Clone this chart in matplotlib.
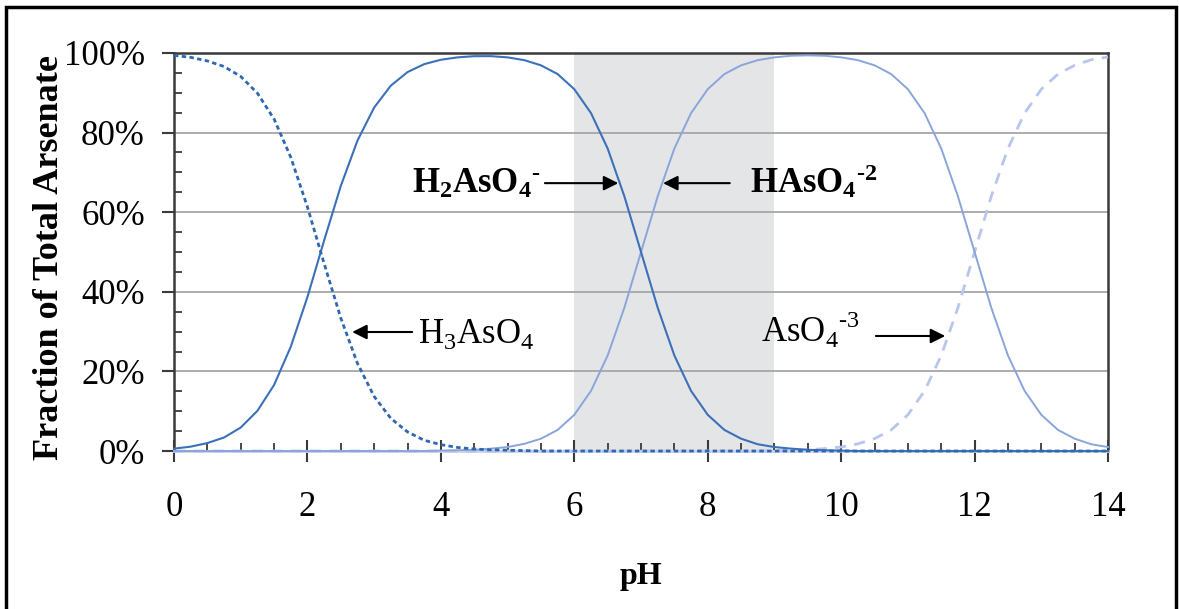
import matplotlib
matplotlib.use("Agg")
import matplotlib.pyplot as plt
from matplotlib.patches import Rectangle
from matplotlib.ticker import MultipleLocator, FuncFormatter

plt.rcParams["font.family"] = ["Liberation Serif", "DejaVu Serif"]
plt.rcParams["mathtext.fontset"] = "custom"
plt.rcParams["mathtext.rm"] = "Liberation Serif"
plt.rcParams["mathtext.bf"] = "Liberation Serif:bold"

# pH grid (every 0.25)
ph = [i * 0.25 for i in range(57)]

# fraction of total arsenate (%) for each species
h3aso4 = [99.4, 98.9, 98.0, 96.6, 94.1, 89.9, 83.4, 73.8, 61.3, 47.1, 33.4, 22.0,
          13.7, 8.2, 4.8, 2.7, 1.6, 0.9, 0.5, 0.3, 0.2, 0.1] + [0.0] * 35
h2aso4 = [0.6, 1.1, 2.0, 3.4, 5.9, 10.1, 16.6, 26.2, 38.7, 52.9, 66.6, 78.0,
          86.3, 91.8, 95.2, 97.2, 98.3, 98.9, 99.2, 99.2, 98.9, 98.2, 96.9, 94.7,
          90.9, 84.9, 76.0, 64.0, 50.0, 36.0, 24.0, 15.1, 9.1, 5.3, 3.1, 1.7,
          1.0, 0.6, 0.3, 0.2, 0.1] + [0.0] * 16
haso4 = [0.0] * 16 + [0.1, 0.2, 0.3, 0.6, 1.0, 1.8, 3.1, 5.3, 9.1, 15.1, 24.0, 36.0,
                      50.0, 64.0, 76.0, 84.9, 90.9, 94.7, 96.9, 98.2, 98.9, 99.3,
                      99.4, 99.3, 98.9, 98.2, 96.9, 94.7, 90.9, 84.9, 76.0, 64.0,
                      50.0, 36.0, 24.0, 15.1, 9.1, 5.3, 3.1, 1.7, 1.0]
aso4 = [0.0] * 36 + [0.1, 0.2, 0.3, 0.6, 1.0, 1.8, 3.1, 5.3, 9.1, 15.1, 24.0, 36.0,
                     50.0, 64.0, 76.0, 84.9, 90.9, 94.7, 96.9, 98.3, 99.0]

shade_range = (6, 9)

fig = plt.figure(figsize=(11.79, 6.09), dpi=100)
ax = fig.add_axes([0.1476, 0.2594, 0.7922, 0.6536])

ax.axvspan(*shade_range, color="#e4e5e7", zorder=0, lw=0)
ax.yaxis.grid(True, color="#a6a6a6", lw=1.3, zorder=1)
ax.set_axisbelow(True)

ax.plot(ph, aso4, color="#b7c6ea", lw=2.0, ls=(0, (4, 3)), clip_on=False, zorder=3)
ax.plot(ph, haso4, color="#8aa5d9", lw=1.4, clip_on=False, zorder=3)
ax.plot(ph, h2aso4, color="#3c71b8", lw=1.5, clip_on=False, zorder=4)
ax.plot(ph, h3aso4, color="#2f68b0", lw=2.0, ls=(0, (1.6, 1.2)), clip_on=False, zorder=4)

ax.set_xlim(0, 14)
ax.set_ylim(0, 100)
ax.xaxis.set_major_locator(MultipleLocator(2))
ax.xaxis.set_minor_locator(MultipleLocator(0.5))
ax.yaxis.set_major_locator(MultipleLocator(20))
ax.yaxis.set_minor_locator(MultipleLocator(5))
ax.yaxis.set_major_formatter(FuncFormatter(lambda v, p: f"{v:.0f}%"))

for s in ["left", "top", "right"]:
    ax.spines[s].set_color("#3a3a3a")
    ax.spines[s].set_linewidth(1.8)
ax.spines["bottom"].set_color("#c9d3ee")
ax.spines["bottom"].set_linewidth(2)

ax.tick_params(axis="y", which="major", direction="out", length=9, width=1.5,
               color="#3a3a3a", labelsize=25, pad=12)
ax.tick_params(axis="y", which="minor", direction="in", length=6, width=1.3, color="#3a3a3a")
ax.tick_params(axis="x", which="major", direction="inout", length=16, width=1.5,
               color="#3a3a3a", labelsize=25, pad=21)
ax.tick_params(axis="x", which="minor", direction="in", length=6, width=1.3, color="#3a3a3a")

ax.set_ylabel("Fraction of Total Arsenate", fontsize=26, fontweight="bold")
ax.yaxis.set_label_coords(-0.116, 0.485)
ax.set_xlabel("pH", fontsize=23, fontweight="bold")
ax.xaxis.set_label_coords(0.5, -0.28)

hy = "\u2010"
arrow = dict(arrowstyle="-|>", color="black", lw=1.5, mutation_scale=22, shrinkA=0, shrinkB=0)
ax.annotate("", xy=(2.67, 29.9), xytext=(3.57, 29.9), arrowprops=arrow)
ax.text(3.66, 27.1, r"H$_3$AsO$_4$", fontsize=25, ha="left", va="baseline")
ax.annotate("", xy=(6.66, 67.3), xytext=(5.56, 67.3), arrowprops=arrow)
ax.text(5.49, 64.8, r"$\mathbf{H_2AsO_4}$$\mathbf{^{" + hy + "}}$", fontsize=25,
        ha="right", va="baseline")
ax.annotate("", xy=(7.33, 67.3), xytext=(8.33, 67.3), arrowprops=arrow)
ax.text(8.63, 64.8, r"$\mathbf{HAsO_4}$$\mathbf{^{" + hy + "2}}$", fontsize=25,
        ha="left", va="baseline")
ax.annotate("", xy=(11.56, 28.9), xytext=(10.52, 28.9), arrowprops=arrow)
ax.text(10.28, 27.4, r"AsO$_4$$^{" + hy + "3}$", fontsize=25, ha="right", va="baseline")

fig.patches.append(Rectangle((6 / 1179, -0.05), 1170 / 1179, 1.05 - 7 / 609,
                             transform=fig.transFigure, fill=False, ec="black", lw=2.5))

fig.savefig("out.png", dpi=100)
